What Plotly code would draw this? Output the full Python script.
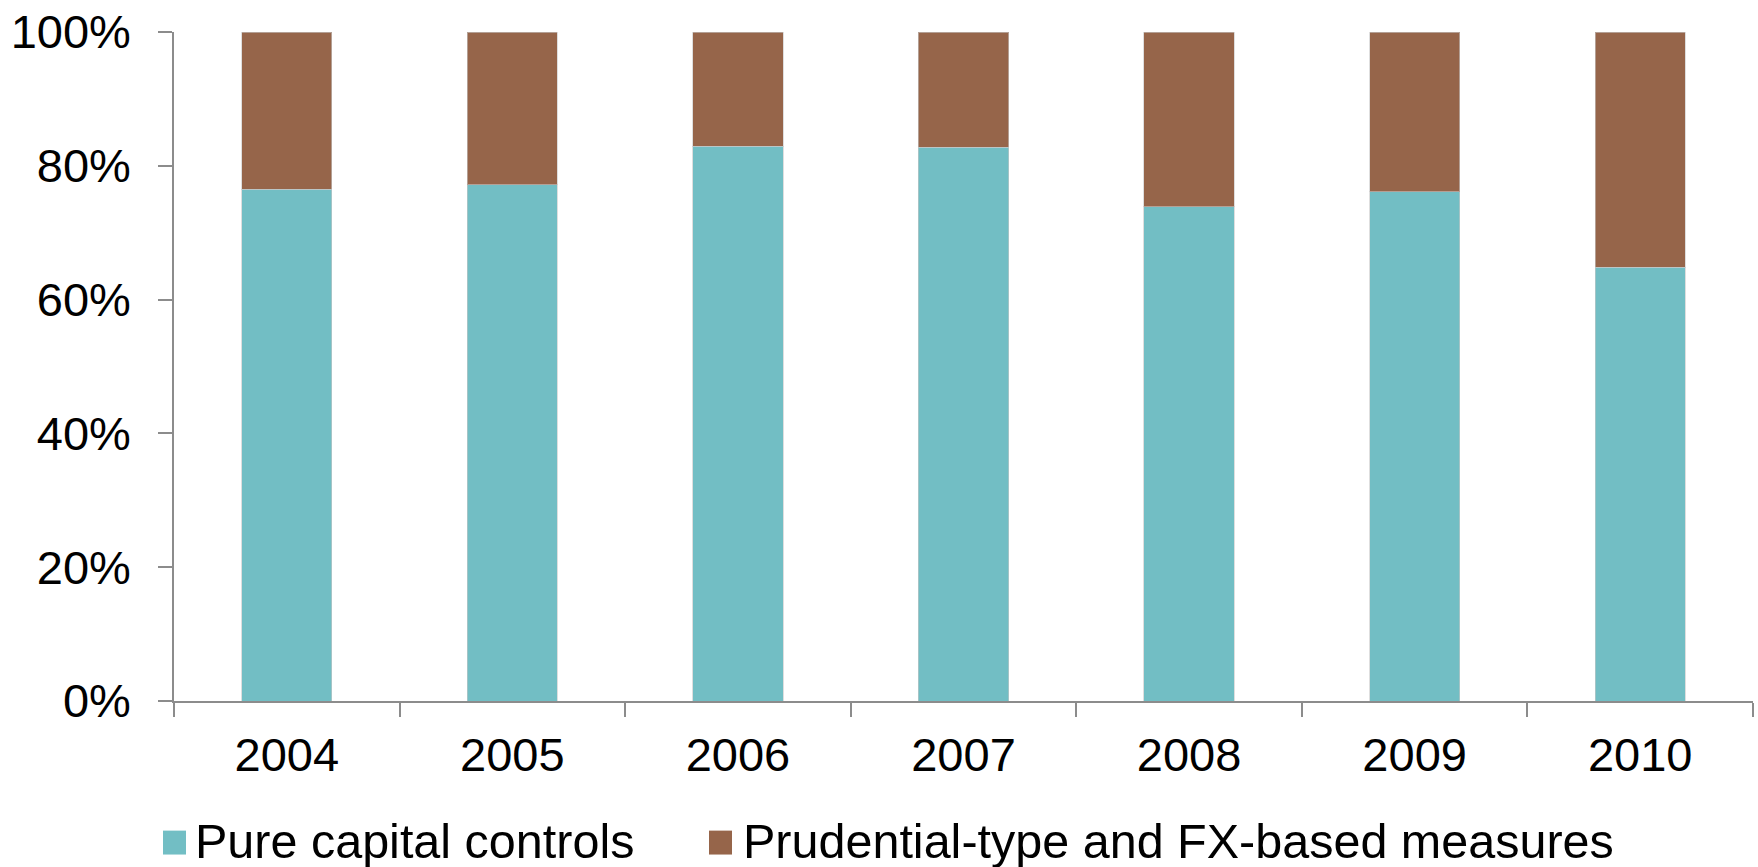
import plotly.graph_objects as go

years = ["2004", "2005", "2006", "2007", "2008", "2009", "2010"]
pure_capital = [76.5, 77.2, 82.9, 82.8, 73.9, 76.1, 64.8]
prudential_fx = [100 - v for v in pure_capital]
series_names = ["Pure capital controls", "Prudential-type and FX-based measures"]
colors = ["#72BEC4", "#96654A"]
y_ticks = [0, 20, 40, 60, 80, 100]
y_tick_labels = ["0%", "20%", "40%", "60%", "80%", "100%"]

W, H = 1758, 867
L, R, T, B = 174, 5, 30, 166
FS = 47
LFS = 48.5

fig = go.Figure()
for name, vals, col in zip(series_names, [pure_capital, prudential_fx], colors):
    fig.add_trace(go.Bar(
        x=years, y=vals, name=name,
        marker=dict(color=col, line=dict(width=1, color="rgba(200,200,200,0.6)")),
        showlegend=False,
    ))

fig.update_layout(
    width=W, height=H,
    margin=dict(l=L, r=R, t=T, b=B, pad=0),
    barmode="stack", bargap=0.6,
    plot_bgcolor="white", paper_bgcolor="white",
    font=dict(family="Liberation Sans, Arial, sans-serif", size=FS, color="black"),
)
fig.update_xaxes(
    type="category", showline=True, linecolor="#8C8C8C", linewidth=1.5,
    ticks="outside", ticklen=14, tickwidth=1.5, tickcolor="#8C8C8C",
    tickson="boundaries", showgrid=False, ticklabelstandoff=12,
    tickfont=dict(size=FS),
)
fig.update_yaxes(
    range=[0, 100], tickvals=y_ticks, ticktext=y_tick_labels,
    showline=True, linecolor="#8C8C8C", linewidth=1.5,
    ticks="outside", ticklen=14, tickwidth=1.5, tickcolor="#8C8C8C",
    showgrid=False, zeroline=False, ticklabelstandoff=18,
    tickfont=dict(size=FS),
)

# custom legend (large swatches)
pw = W - L - R
ph = H - T - B
def px(xp):
    return (xp - L) / pw
def py(yp):
    return (H - B - yp) / ph

legend_items = [(163, 186, 193), (709, 732, 741)]
for (x0, x1, tx), name, col in zip(legend_items, series_names, colors):
    fig.add_shape(type="rect", xref="paper", yref="paper",
                  x0=px(x0), x1=px(x1), y0=py(855), y1=py(831),
                  fillcolor=col, line=dict(width=0))
    fig.add_annotation(xref="paper", yref="paper", x=px(tx), y=py(841),
                       text=name, showarrow=False, xanchor="left", yanchor="middle",
                       font=dict(size=LFS, color="black"))

fig.write_html("out.html", config={"displayModeBar": False},
               post_script="document.body.style.margin='0';document.body.style.overflow='hidden';")
